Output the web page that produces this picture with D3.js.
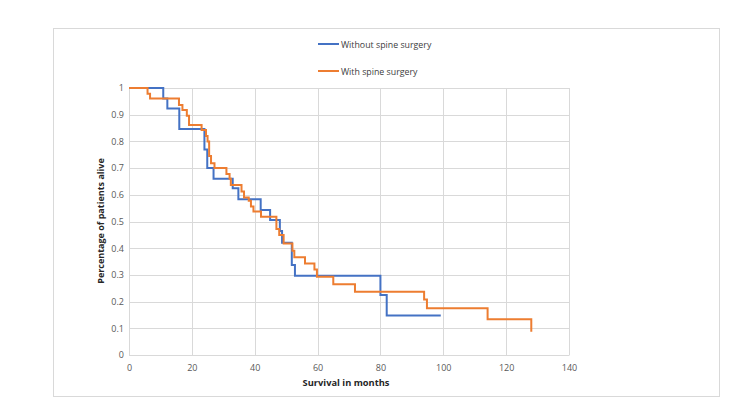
<!DOCTYPE html>
<html><head><meta charset="utf-8">
<script src="https://cdn.jsdelivr.net/npm/d3@7"></script>
<style>body{margin:0;background:#fff}svg{display:block}</style>
</head><body>
<script>
const seriesNames = ["Without spine surgery", "With spine surgery"];
const seriesColors = ["#4472C4", "#ED7D31"];
// Kaplan–Meier steps: time (months) at which survival changes, and new survival value
const withoutTimes = [0, 10.9, 12.2, 16.0, 24.0, 24.9, 26.9, 33.0, 34.8, 41.9, 44.9, 48.0, 48.7, 51.8, 52.8, 80.0, 82.0, 99.2];
const withoutSurv  = [1, 0.961, 0.923, 0.846, 0.77, 0.70, 0.66, 0.625, 0.583, 0.543, 0.506, 0.464, 0.42, 0.337, 0.297, 0.225, 0.148, 0.148];
const withTimes = [0, 5.9, 6.7, 15.9, 17.0, 18.4, 19.1, 23.1, 24.5, 25.0, 25.5, 26.1, 27.2, 31.0, 32.0, 32.4, 35.8, 36.6, 38.1, 38.8, 39.6, 42.0, 46.9, 47.8, 49.2, 52.0, 52.6, 56.0, 59.0, 59.8, 65.0, 71.9, 93.9, 94.8, 114.1, 128.0];
const withSurv  = [1, 0.978, 0.961, 0.936, 0.918, 0.896, 0.861, 0.843, 0.82, 0.80, 0.745, 0.718, 0.70, 0.678, 0.66, 0.637, 0.612, 0.59, 0.578, 0.556, 0.537, 0.518, 0.472, 0.449, 0.418, 0.39, 0.366, 0.343, 0.32, 0.293, 0.265, 0.237, 0.208, 0.175, 0.134, 0.087];
const xTicks = [0, 20, 40, 60, 80, 100, 120, 140];
const yTicks = [0, 0.1, 0.2, 0.3, 0.4, 0.5, 0.6, 0.7, 0.8, 0.9, 1];
const xTitle = "Survival  in months";
const yTitle = "Percentage of patients alive";

const W = 750, H = 409;
const svg = d3.select("body").append("svg").attr("width", W).attr("height", H);
svg.append("rect").attr("x", 53.5).attr("y", 28.5).attr("width", 666).attr("height", 368)
  .attr("fill", "#fff").attr("stroke", "#d9d9d9").attr("stroke-width", 1);

const x = d3.scaleLinear().domain([0, 140]).range([129, 569]);
const y = d3.scaleLinear().domain([0, 1]).range([355, 88]);
const font = "'Open Sans', 'Liberation Sans', sans-serif";

const g = svg.append("g");
// gridlines
g.selectAll("line.h").data(yTicks).join("line")
  .attr("x1", x(0)).attr("x2", x(140)).attr("y1", d => Math.round(y(d)) + 0.5).attr("y2", d => Math.round(y(d)) + 0.5)
  .attr("stroke", "#d9d9d9").attr("stroke-width", 1);
g.selectAll("line.v").data(xTicks).join("line")
  .attr("y1", y(0)).attr("y2", y(1)).attr("x1", d => Math.round(x(d)) + 0.5).attr("x2", d => Math.round(x(d)) + 0.5)
  .attr("stroke", "#d9d9d9").attr("stroke-width", 1);

// axes (labels only)
const xAxis = d3.axisBottom(x).tickValues(xTicks).tickSize(0).tickPadding(10);
const ax = svg.append("g").attr("transform", `translate(0,${y(0)})`).call(xAxis);
ax.select(".domain").attr("stroke", "#d9d9d9");
ax.selectAll("text").attr("fill", "#595959").style("font-family", font).style("font-size", "9px");
const yAxis = d3.axisLeft(y).tickValues(yTicks).tickSize(0).tickPadding(5).tickFormat(d => d3.format("~g")(d));
const ay = svg.append("g").attr("transform", `translate(${x(0)},0)`).call(yAxis);
ay.select(".domain").remove();
ay.selectAll("text").attr("fill", "#595959").style("font-family", font).style("font-size", "9px");

// titles
svg.append("text").attr("x", 346).attr("y", 386).attr("text-anchor", "middle")
  .style("font-family", font).style("font-size", "9.3px").style("font-weight", "bold").attr("fill", "#262626").text(xTitle);
svg.append("text").attr("transform", "translate(104,221) rotate(-90)").attr("text-anchor", "middle")
  .style("font-family", font).style("font-size", "9px").style("font-weight", "bold").attr("fill", "#262626").text(yTitle);

// step lines
const line = d3.line().x(d => x(d[0])).y(d => y(d[1])).curve(d3.curveStepAfter);
const series = [d3.zip(withoutTimes, withoutSurv), d3.zip(withTimes, withSurv)];
series.forEach((pts, i) => {
  svg.append("path").attr("d", line(pts)).attr("fill", "none")
    .attr("stroke", seriesColors[i]).attr("stroke-width", 2).attr("stroke-linejoin", "miter");
});

// legend
const leg = svg.append("g");
seriesNames.forEach((n, i) => {
  const ly = 44 + i * 27;
  leg.append("line").attr("x1", 318).attr("x2", 339).attr("y1", ly).attr("y2", ly)
    .attr("stroke", seriesColors[i]).attr("stroke-width", 2);
  leg.append("text").attr("x", 341).attr("y", ly + 3.5).style("font-family", font).style("font-size", "8.8px")
    .attr("fill", "#404040").text(n);
});
</script>
</body></html>
